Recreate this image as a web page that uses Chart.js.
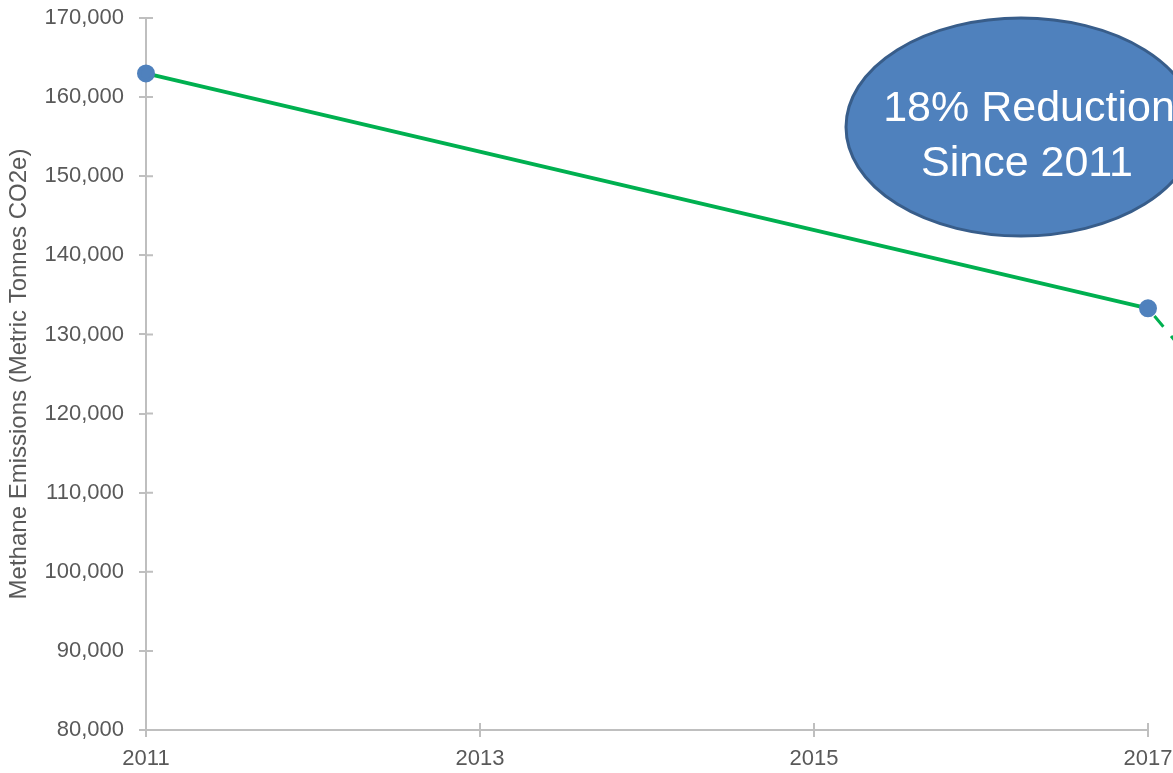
<!DOCTYPE html>
<html>
<head>
<meta charset="utf-8">
<script src="https://cdn.jsdelivr.net/npm/chart.js@4/dist/chart.umd.min.js"></script>
<style>
  html, body { margin: 0; padding: 0; background: #fff; }
  #wrap { width: 1173px; height: 773px; }
</style>
</head>
<body>
<div id="wrap"><canvas id="methaneChart"></canvas></div>
<script>
// data
const years = [2011, 2017];
const emissions = [163000, 133300];
const trendYears = [2017, 2018];
const trendValues = [133300, 108000];
const xTicks = [2011, 2013, 2015, 2017];
const yMin = 80000, yMax = 170000, yStep = 10000;
const calloutLines = ['18% Reduction', 'Since 2011'];

const axisGray = '#BFBFBF';
const labelGray = '#595959';
const fontFamily = '"Liberation Sans", Arial, sans-serif';

// inner half of tick marks (ticks cross the axis line)
const crossTicks = {
    id: 'crossTicks',
    beforeDatasetsDraw(chart) {
        const ctx = chart.ctx;
        const x = chart.scales.x, y = chart.scales.y;
        ctx.save();
        ctx.strokeStyle = axisGray;
        ctx.lineWidth = 2;
        ctx.beginPath();
        y.ticks.forEach(t => {
            const py = y.getPixelForValue(t.value);
            ctx.moveTo(x.left, py);
            ctx.lineTo(x.left + 7, py);
        });
        x.ticks.forEach(t => {
            const px = x.getPixelForValue(t.value);
            ctx.moveTo(px, y.bottom);
            ctx.lineTo(px, y.bottom - 7);
        });
        ctx.stroke();
        ctx.restore();
    }
};

// blue ellipse callout
const callout = {
    id: 'callout',
    afterDraw(chart) {
        const ctx = chart.ctx;
        const a = chart.chartArea;
        const cx = a.right - 127, cy = a.top + 109;
        ctx.save();
        ctx.beginPath();
        ctx.ellipse(cx, cy, 175, 109, 0, 0, Math.PI * 2);
        ctx.fillStyle = '#4F81BD';
        ctx.fill();
        ctx.lineWidth = 3;
        ctx.strokeStyle = '#385D8A';
        ctx.stroke();
        ctx.fillStyle = '#ffffff';
        ctx.font = '43px ' + fontFamily;
        ctx.textAlign = 'center';
        ctx.textBaseline = 'middle';
        ctx.fillText(calloutLines[0], cx + 8, cy - 18);
        ctx.fillText(calloutLines[1], cx + 6, cy + 37);
        ctx.restore();
    }
};

new Chart(document.getElementById('methaneChart'), {
    type: 'line',
    data: {
        datasets: [
            {
                label: 'Methane Emissions',
                data: years.map((yr, i) => ({x: yr, y: emissions[i]})),
                borderColor: '#00B050',
                borderWidth: 4,
                pointBackgroundColor: '#4F81BD',
                pointBorderColor: '#4F81BD',
                pointRadius: 7,
                clip: false,
                tension: 0
            },
            {
                label: 'Trend',
                data: trendYears.map((yr, i) => ({x: yr, y: trendValues[i]})),
                borderColor: '#00B050',
                borderWidth: 3,
                borderDash: [14, 12],
                borderDashOffset: 16,
                pointRadius: 0,
                clip: false,
                tension: 0
            }
        ]
    },
    options: {
        responsive: true,
        maintainAspectRatio: false,
        animation: false,
        layout: { padding: { top: 18, right: 25, left: 0, bottom: 0 } },
        plugins: {
            legend: { display: false },
            tooltip: { enabled: false }
        },
        scales: {
            x: {
                type: 'linear',
                min: 2011,
                max: 2017,
                afterBuildTicks: s => { s.ticks = xTicks.map(v => ({value: v})); },
                afterFit: s => {
                    s.height = 43;
                    s.paddingLeft = 0;
                    s.paddingRight = 0;
                },
                grid: { drawOnChartArea: false, color: axisGray, lineWidth: 2, tickLength: 7 },
                border: { color: axisGray, width: 2 },
                ticks: {
                    color: labelGray,
                    font: { family: fontFamily, size: 22 },
                    padding: 9,
                    maxRotation: 0,
                    callback: v => String(v)
                }
            },
            y: {
                min: yMin,
                max: yMax,
                afterFit: s => {
                    s.width = 146;
                    s.paddingTop = 0;
                    s.paddingBottom = 0;
                },
                grid: { drawOnChartArea: false, color: axisGray, lineWidth: 2, tickLength: 7 },
                border: { color: axisGray, width: 2 },
                ticks: {
                    stepSize: yStep,
                    color: labelGray,
                    font: { family: fontFamily, size: 22 },
                    padding: 15
                },
                title: {
                    display: true,
                    text: 'Methane Emissions (Metric Tonnes CO2e)',
                    color: labelGray,
                    font: { family: fontFamily, size: 24 },
                    padding: { top: 5, bottom: 0 }
                }
            }
        }
    },
    plugins: [crossTicks, callout]
});
</script>
</body>
</html>
